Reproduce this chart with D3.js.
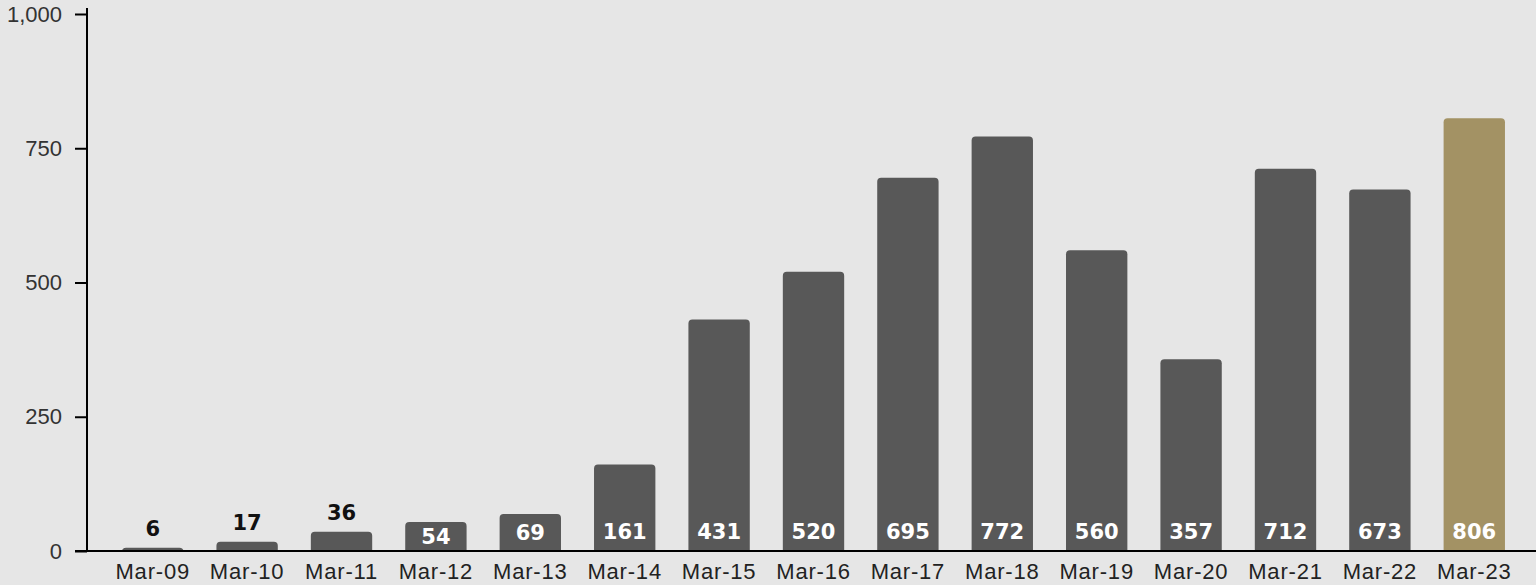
<html>
<head>
<style>
  body { margin: 0; background: #e6e6e6; }
  svg { display: block; }
</style>
</head>
<body>
<div id='chart'></div>
<script src='https://cdn.jsdelivr.net/npm/d3@7'></script>
<script>
var years = ['Mar-09', 'Mar-10', 'Mar-11', 'Mar-12', 'Mar-13', 'Mar-14', 'Mar-15', 'Mar-16',
             'Mar-17', 'Mar-18', 'Mar-19', 'Mar-20', 'Mar-21', 'Mar-22', 'Mar-23'];
var values = [6, 17, 36, 54, 69, 161, 431, 520, 695, 772, 560, 357, 712, 673, 806];
var yTicks = [0, 250, 500, 750, 1000];

var width = 1536,
    height = 585;

var margin = {top: 14, right: 0, bottom: 34, left: 87};

var svg = d3.select('#chart')
    .append('svg')
    .attr('width', width)
    .attr('height', height);

svg.append('rect')
    .attr('width', width)
    .attr('height', height)
    .attr('fill', '#e6e6e6');

var x = d3.scaleBand()
    .domain(years)
    .range([margin.left + 2, width + 2])
    .paddingInner(0.35)
    .paddingOuter(0.35);

var y = d3.scaleLinear()
    .domain([0, 1000])
    .range([height - margin.bottom, margin.top]);

var y0 = y(0);

// bars
svg.selectAll('rect.bar')
    .data(values)
    .join('rect')
    .attr('class', 'bar')
    .attr('x', function(d, i){ return x(years[i]); })
    .attr('y', function(d){ return y(d); })
    .attr('width', x.bandwidth())
    .attr('height', function(d){ return y0 - y(d) + 4; })
    .attr('rx', 4)
    .attr('fill', function(d, i){ return i == years.length - 1 ? '#a39264' : '#585858'; });

// hide rounded bottoms below the axis
svg.append('rect')
    .attr('x', 0)
    .attr('y', y0)
    .attr('width', width)
    .attr('height', 10)
    .attr('fill', '#e6e6e6');

// value labels
svg.selectAll('text.val')
    .data(values)
    .join('text')
    .attr('class', 'val')
    .attr('x', function(d, i){ return x(years[i]) + x.bandwidth() / 2; })
    .attr('y', function(d){
        var top = y(d);
        if (y0 - top < 25) return top - 19;
        return Math.max((top + y0) / 2, y0 - 20);
    })
    .attr('dy', '0.36em')
    .attr('text-anchor', 'middle')
    .attr('font-family', '"DejaVu Sans", sans-serif')
    .attr('font-weight', 'bold')
    .attr('font-size', 21)
    .attr('fill', function(d){ return y0 - y(d) < 25 ? '#111' : '#fff'; })
    .text(function(d){ return d; });

// y axis
var yAxis = svg.append('g')
    .attr('transform', 'translate(' + margin.left + ',0)')
    .call(d3.axisLeft(y).tickValues(yTicks).tickSize(12).tickPadding(13).tickFormat(d3.format(',')));

yAxis.select('.domain').attr('d', 'M0,' + (margin.top - 6) + 'V' + y0).attr('stroke', '#000').attr('stroke-width', 2);
yAxis.selectAll('.tick line').attr('stroke', '#000').attr('stroke-width', 2);
yAxis.selectAll('.tick text')
    .attr('font-family', '"Liberation Sans", Arial, sans-serif')
    .attr('font-size', 22)
    .attr('fill', '#333');

// x axis
var xAxis = svg.append('g')
    .attr('transform', 'translate(0,' + y0 + ')')
    .call(d3.axisBottom(x).tickSize(0).tickPadding(12));

xAxis.select('.domain').attr('d', 'M' + (margin.left - 12) + ',0H' + width).attr('stroke', '#000').attr('stroke-width', 2);
xAxis.selectAll('.tick text')
    .attr('font-family', '"Liberation Sans", Arial, sans-serif')
    .attr('font-size', 22)
    .attr('letter-spacing', '0.8px')
    .attr('fill', '#222');
</script>
</body>
</html>
